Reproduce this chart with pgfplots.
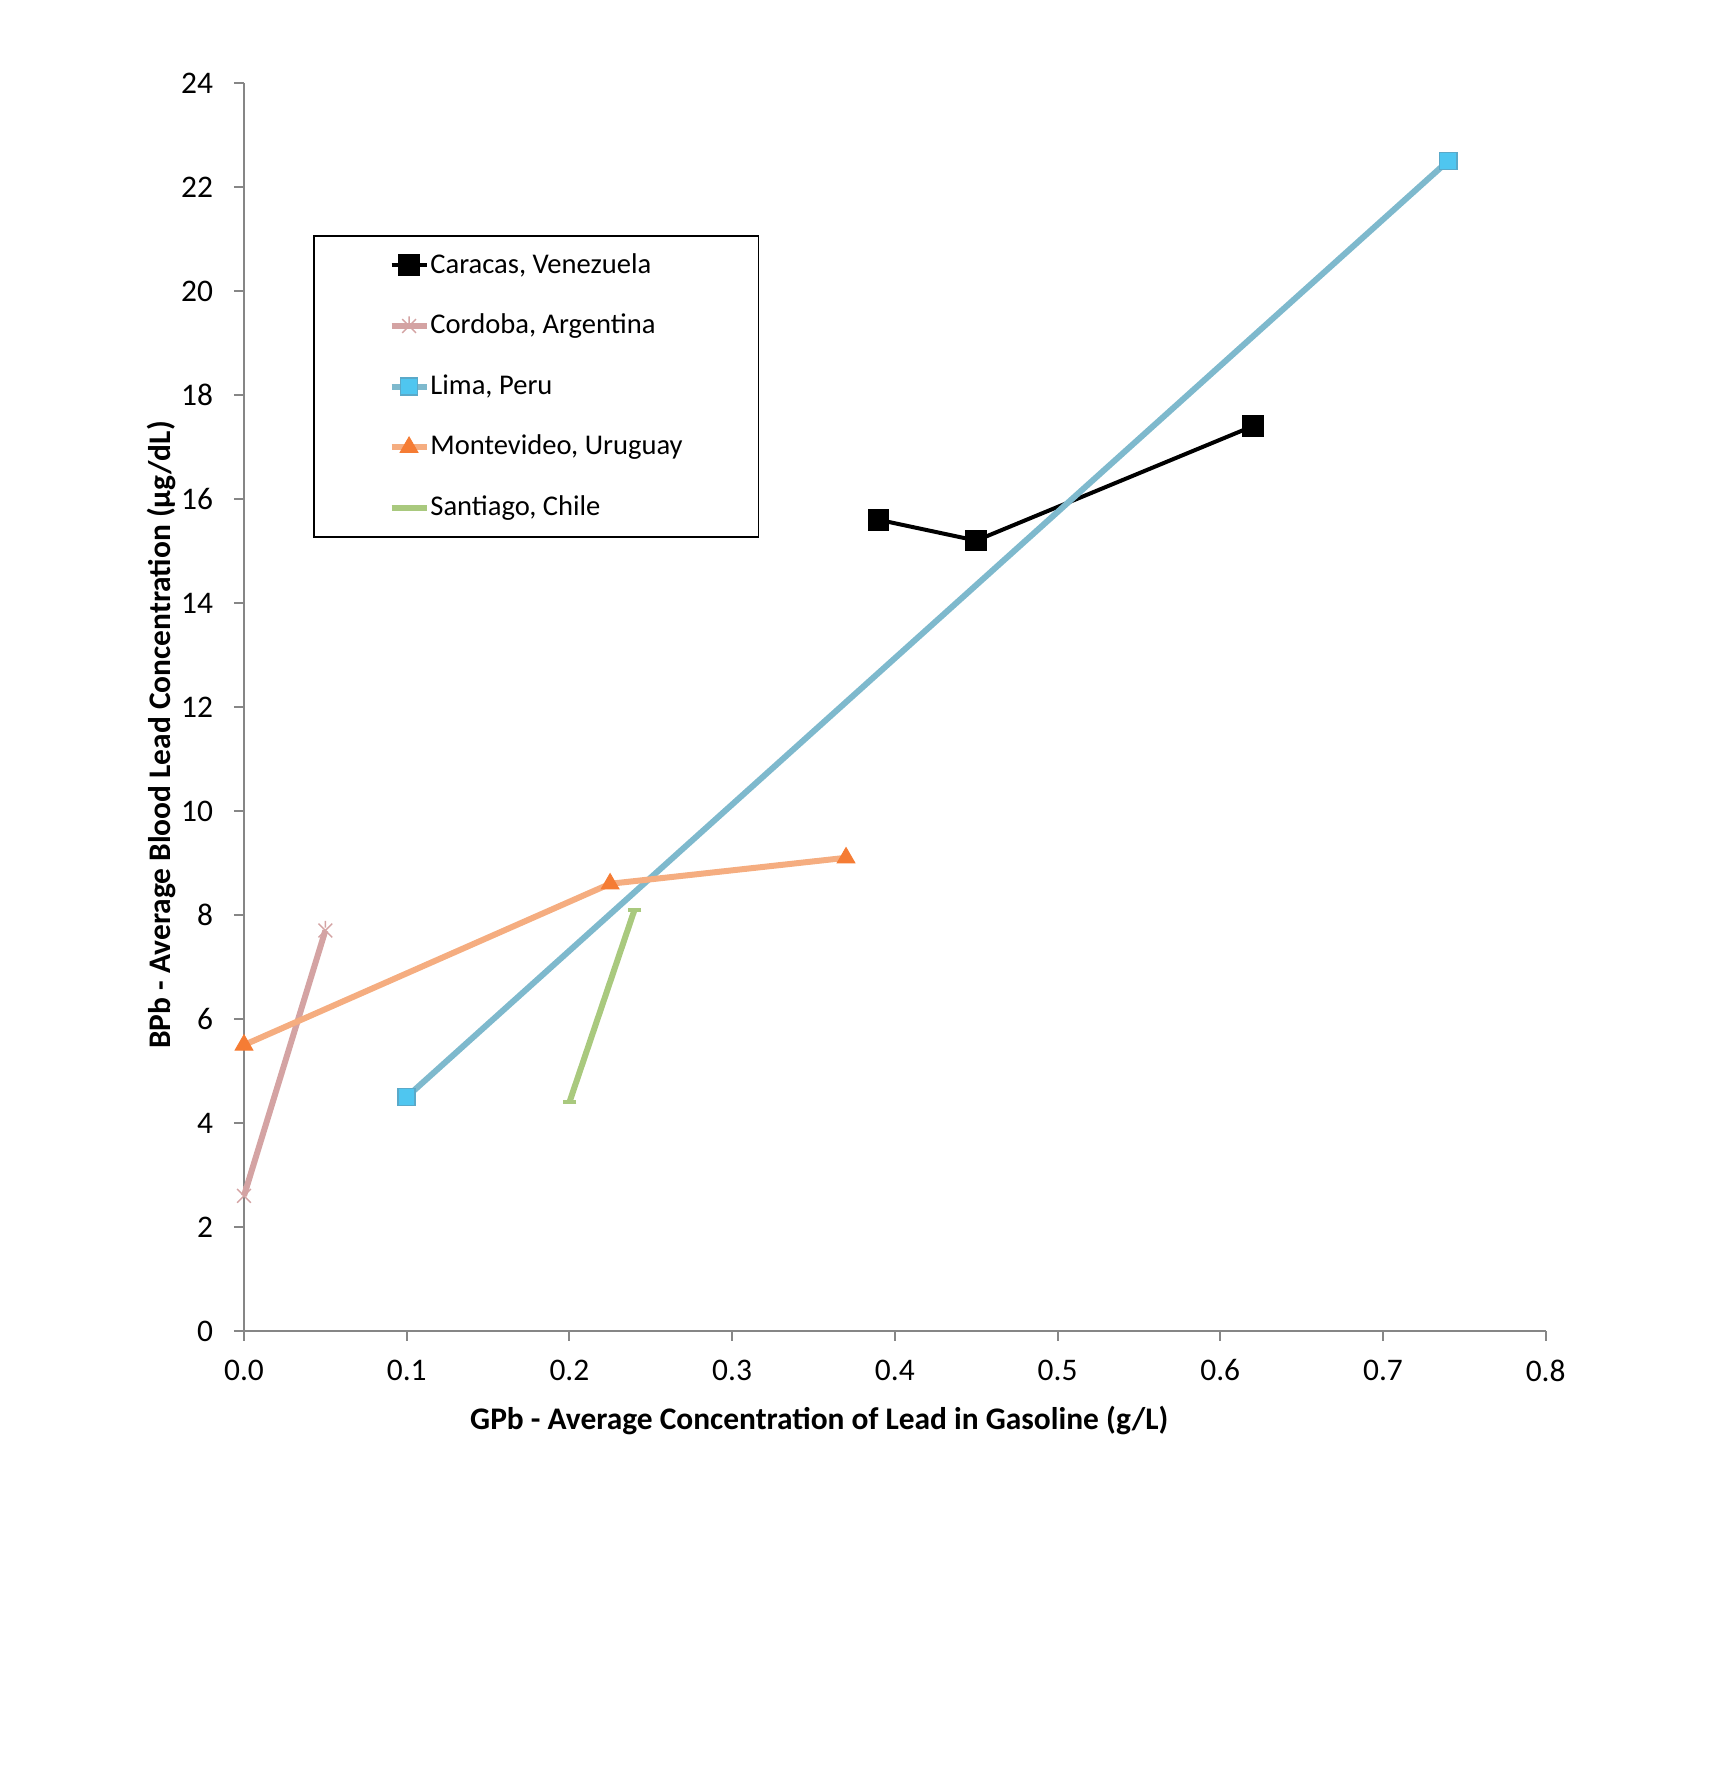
\documentclass[border=0pt]{standalone}
\usepackage{fontspec}
\setmainfont{Carlito}
\usepackage{pgfplots}
\pgfplotsset{compat=1.18}
\definecolor{cordoba}{HTML}{D4A3A3}
\definecolor{limaline}{HTML}{7EB9CD}
\definecolor{limafill}{HTML}{4FC6F0}
\definecolor{limadraw}{HTML}{5AA9C9}
\definecolor{montline}{HTML}{F5AD80}
\definecolor{montfill}{HTML}{F57C34}
\definecolor{santline}{HTML}{A9C97E}
\definecolor{axgray}{HTML}{868686}
\pgfdeclareplotmark{xstar}{%
  \pgfpathmoveto{\pgfqpoint{-0.7071\pgfplotmarksize}{-0.7071\pgfplotmarksize}}%
  \pgfpathlineto{\pgfqpoint{0.7071\pgfplotmarksize}{0.7071\pgfplotmarksize}}%
  \pgfpathmoveto{\pgfqpoint{-0.7071\pgfplotmarksize}{0.7071\pgfplotmarksize}}%
  \pgfpathlineto{\pgfqpoint{0.7071\pgfplotmarksize}{-0.7071\pgfplotmarksize}}%
  \pgfpathmoveto{\pgfqpoint{0pt}{0.3\pgfplotmarksize}}%
  \pgfpathlineto{\pgfqpoint{0pt}{\pgfplotmarksize}}%
  \pgfusepathqstroke}
\begin{document}
\begin{tikzpicture}
\path (0,0) rectangle (600.6pt,620.9pt);
\begin{axis}[
  at={(85.4pt,155.05pt)}, anchor=south west,
  scale only axis, width=455.6pt, height=436.8pt,
  xmin=0, xmax=0.8, ymin=0, ymax=24,
  xtick={0,0.1,...,0.8}, ytick={0,2,...,24},
  axis lines=left, axis line style={-, draw=axgray, line width=0.7pt},
  tick style={draw=axgray, line width=0.7pt},
  tick align=outside, major tick length=3.5pt,
  /pgf/number format/assume math mode=true,
  tick label style={font=\fontsize{11}{13}\selectfont},
  xticklabel style={yshift=-3pt, /pgf/number format/.cd, fixed, fixed zerofill, precision=1},
  yticklabel style={xshift=-3.8pt, /pgf/number format/.cd, fixed, precision=0},
  xlabel={GPb - Average Concentration of Lead in Gasoline (g/L)},
  ylabel={BPb - Average Blood Lead Concentration (µg/dL)},
  label style={font=\fontsize{11}{13}\selectfont\bfseries},
  xlabel style={at={(axis description cs:0.442,-0.0721)}, anchor=center},
  ylabel style={at={(axis description cs:-0.0636,0.4776)}, anchor=center},
  legend style={at={(axis description cs:0.0529,0.878)}, anchor=north west,
    draw=black, line width=0.6pt, inner xsep=26.2pt, inner ysep=4pt,
    font=\fontsize{10}{12}\selectfont, row sep=8.8pt,
    nodes={inner xsep=0.3pt, inner ysep=2pt}},
  legend cell align=left,
  legend image code/.code={\draw[mark repeat=2,mark phase=2] plot coordinates {(0cm,0cm) (0.215cm,0cm) (0.43cm,0cm)};},
  clip=false,
]
\addplot[black, line width=1.4pt, mark=square*, mark size=3.1pt, mark options={solid, fill=black}]
  coordinates {(0.39,15.6) (0.45,15.2) (0.62,17.4)};
\addlegendentry{Caracas, Venezuela}
\addplot[cordoba, line width=2.1pt, mark=xstar, mark size=3.4pt, mark options={solid, line width=0.5pt, draw=cordoba}]
  coordinates {(0,2.6) (0.05,7.7)};
\addlegendentry{Cordoba, Argentina}
\addplot[limaline, line width=2.1pt, mark=square*, mark size=3pt, mark options={solid, fill=limafill, draw=limadraw, line width=0.6pt}]
  coordinates {(0.1,4.5) (0.74,22.5)};
\addlegendentry{Lima, Peru}
\addplot[montline, line width=2.1pt, mark=triangle*, mark size=3.6pt, mark options={solid, fill=montfill, draw=montfill, line width=0.3pt}]
  coordinates {(0,5.5) (0.225,8.6) (0.37,9.1)};
\addlegendentry{Montevideo, Uruguay}
\addplot[santline, line width=2.1pt, mark=-, mark size=2.4pt, mark options={solid, draw=santline, line width=1.6pt}]
  coordinates {(0.2,4.4) (0.24,8.1)};
\addlegendentry{Santiago, Chile}
\end{axis}
\end{tikzpicture}
\end{document}
